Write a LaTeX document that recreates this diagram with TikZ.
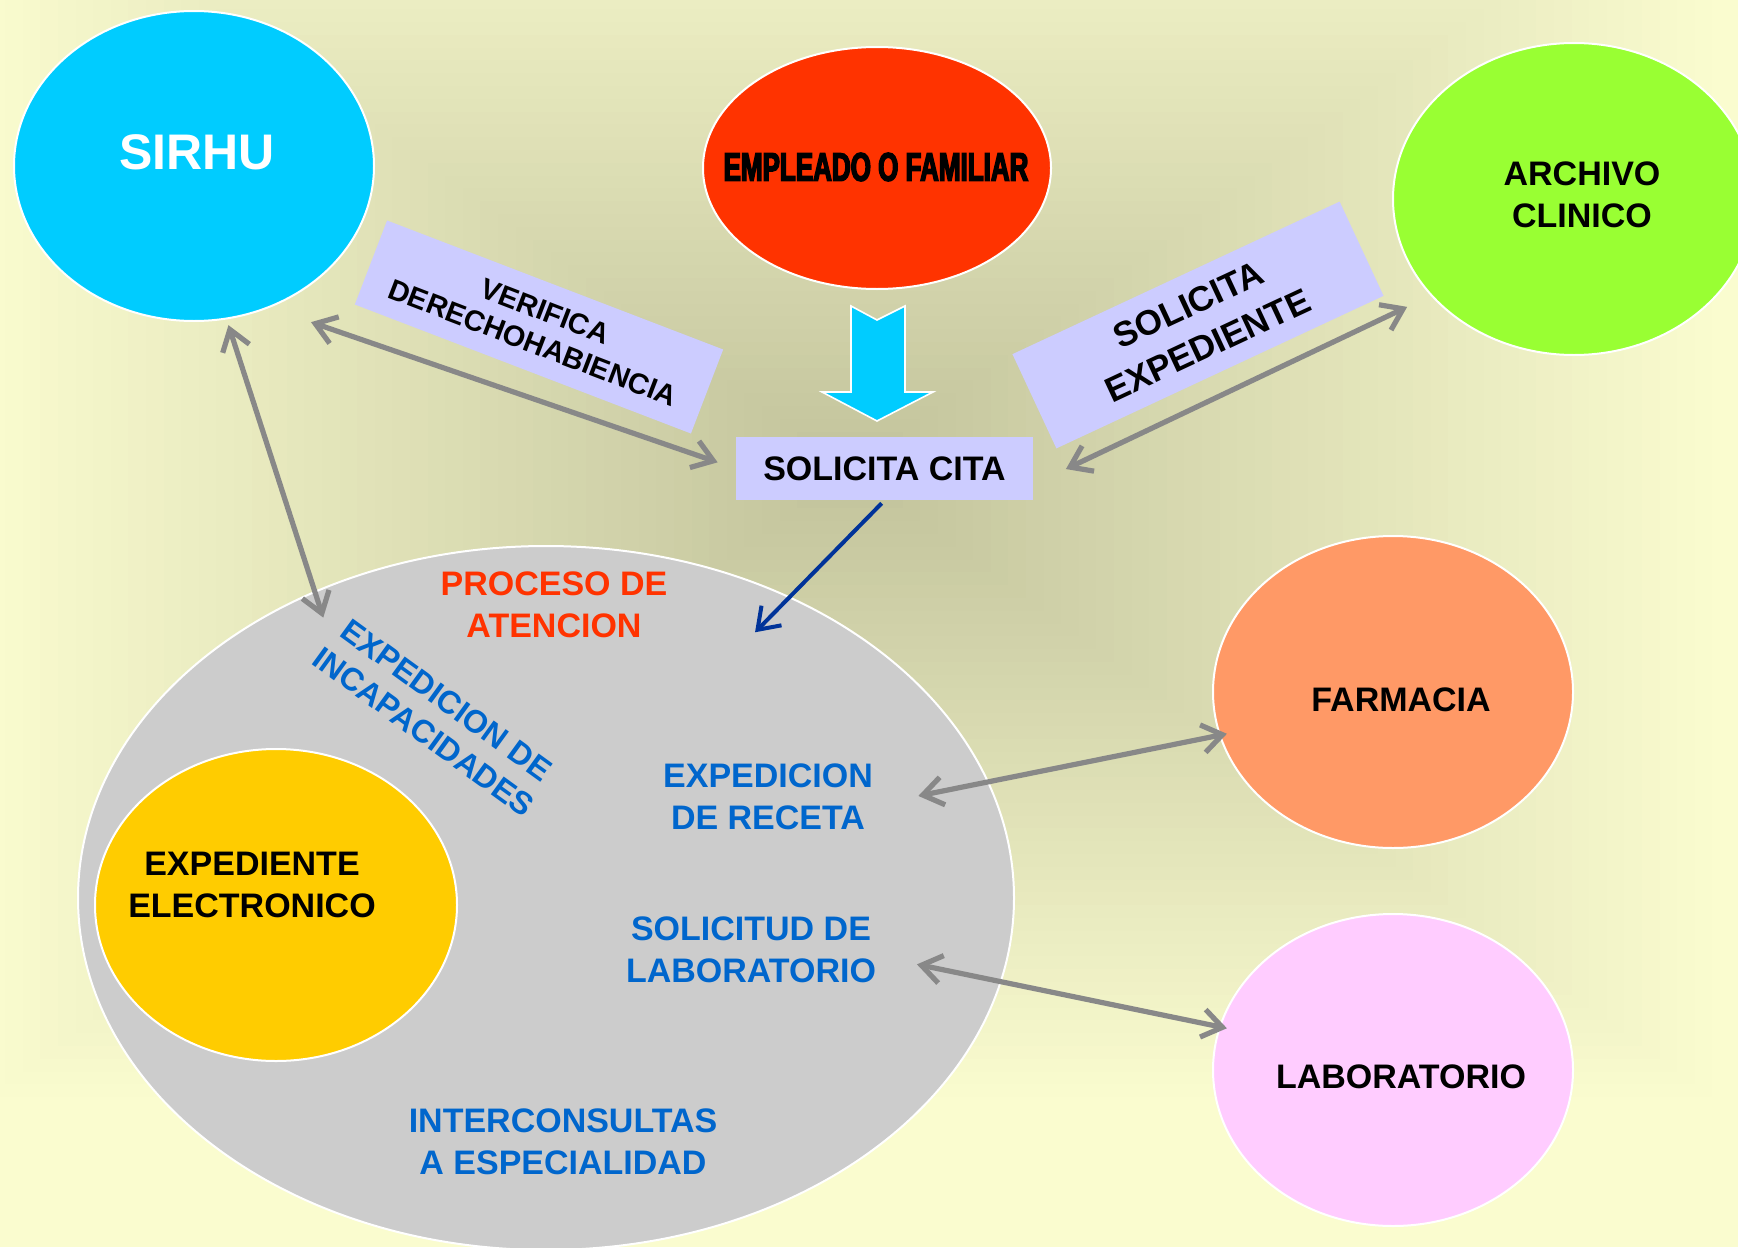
\documentclass[tikz,border=0pt]{standalone}
\usepackage{fontspec}
\setmainfont{Liberation Sans}
\newfontfamily\heavyfont{Liberation Sans}[FakeStretch=0.65,BoldFeatures={FakeBold=3.5}]
\usetikzlibrary{shapes.geometric,arrows.meta}

\definecolor{bgpale}{HTML}{FAFCCF}
\definecolor{bgdark}{HTML}{C1C29B}
\definecolor{sirhuazul}{HTML}{00CCFF}
\definecolor{emprojo}{HTML}{FF3300}
\definecolor{archverde}{HTML}{99FF33}
\definecolor{farmnaranja}{HTML}{FF9966}
\definecolor{labrosa}{HTML}{FFCCFF}
\definecolor{procgris}{HTML}{CCCCCC}
\definecolor{expamarillo}{HTML}{FFCC00}
\definecolor{lila}{HTML}{CCCCFF}
\definecolor{txtazul}{HTML}{0066CC}
\definecolor{flechagris}{HTML}{888888}
\definecolor{flechaazul}{HTML}{003399}

\tikzset{
  blob/.style={ellipse, draw=white, line width=1pt, inner sep=0pt},
  lbl/.style={font=\bfseries\fontsize{17}{21}\selectfont, align=center, inner sep=0pt},
  tag/.style={rectangle, fill=lila, lbl},
  link/.style={draw=flechagris, line width=2.6pt},
}

\begin{document}
\begin{tikzpicture}[x=0.5pt, y=-0.5pt, >={Straight Barb[length=10pt,width=14pt]}]
	\useasboundingbox (0,0) rectangle (1738,1247);

	% fondo
	\fill [bgpale] (0,0) rectangle (1738,1247);
	\begin{scope}
	  \clip (0,0) rectangle (1738,1247);
	  \foreach \k in {50,...,1} {
	    \pgfmathtruncatemacro\pct{2*\k}
	    \fill [bgpale!\pct!bgdark] (850-\k*17.6,470-\k*12.8) rectangle (850+\k*17.6,470+\k*12.8);
	  }
	\end{scope}

	% elipses
	\node at (546,898) [blob, fill=procgris, minimum width=468pt, minimum height=352pt] (proceso) {};
	\node at (276,905) [blob, fill=expamarillo, minimum width=181pt, minimum height=156pt] (expediente) {};
	\node at (194,166) [blob, fill=sirhuazul, minimum width=180pt, minimum height=155pt] (sirhu) {};
	\node at (877,168) [blob, fill=emprojo, minimum width=174pt, minimum height=121pt] (empleado) {};
	\node at (1574,199) [blob, fill=archverde, minimum width=181pt, minimum height=156pt] (archivo) {};
	\node at (1393,692) [blob, fill=farmnaranja, minimum width=180pt, minimum height=156pt] (farmacia) {};
	\node at (1393,1070) [blob, fill=labrosa, minimum width=180pt, minimum height=156pt] (laboratorio) {};

	\node at (197,152) [lbl, text=white, font=\bfseries\fontsize{25}{30}\selectfont] (sirhutxt) {SIRHU};
	\node at (876,167) [lbl, font=\heavyfont\bfseries\fontsize{20}{24}\selectfont] (emptxt) {EMPLEADO O FAMILIAR};
	\node at (1582,195) [lbl] (archtxt) {ARCHIVO\\CLINICO};
	\node at (252,885) [lbl] (exptxt) {EXPEDIENTE\\ELECTRONICO};
	\node at (1401,700) [lbl] (farmtxt) {FARMACIA};
	\node at (1401,1077) [lbl] (labtxt) {LABORATORIO};

	% flecha de bloque
	\filldraw [fill=sirhuazul, draw=white, line width=0.8pt]
	  (851,306) -- (877,320) -- (905,306) -- (905,392) -- (933,392) -- (877,421) -- (822,392) -- (851,392) -- cycle;

	% recuadros
	\node at (884.5,468.5) [tag, minimum width=148.5pt, minimum height=31.5pt] (cita) {SOLICITA CITA};
	\node at (539,327) [tag, rotate=-21, minimum width=180pt, minimum height=45pt,
	  font=\bfseries\fontsize{14.5}{17}\selectfont] (verifica) {VERIFICA\\DERECHOHABIENCIA};
	\node at (1198,325) [tag, rotate=25, minimum width=180.5pt, minimum height=52pt,
	  font=\bfseries\fontsize{17.5}{22.5}\selectfont] (solexp) {SOLICITA\\EXPEDIENTE};

	% textos del proceso
	\node at (554,605) [lbl, text=emprojo] (atencion) {PROCESO DE\\ATENCION};
	\node at (435,716) [lbl, text=txtazul, rotate=-36, font=\bfseries\fontsize{16}{19.5}\selectfont] (incap) {EXPEDICION DE\\INCAPACIDADES};
	\node at (768,797) [lbl, text=txtazul] (receta) {EXPEDICION\\DE RECETA};
	\node at (751,950) [lbl, text=txtazul] (labsol) {SOLICITUD DE\\LABORATORIO};
	\node at (563,1142) [lbl, text=txtazul] (inter) {INTERCONSULTAS\\A ESPECIALIDAD};

	\draw [link]
	  (sirhu.-62) edge [<->, shorten <=22pt, shorten >=9.5pt] (cita.west)
	  (sirhu.-78) edge [<->, shorten <=3pt, shorten >=-14pt] (proceso.127)
	  ([yshift=-8pt]cita.east) edge [<->, shorten <=18pt, shorten >=13pt] (archivo.214)
	  ([yshift=-4pt]receta.east) edge [<->, shorten <=23pt, shorten >=-4pt] (farmacia.194)
	  ([yshift=-3pt]labsol.east) edge [<->, shorten <=20.7pt, shorten >=-4pt] (laboratorio.166)
	;

	\draw [->, flechaazul, line width=2pt, shorten <=2pt, shorten >=-25pt] (cita.south) -- (proceso.51);

\end{tikzpicture}
\end{document}
